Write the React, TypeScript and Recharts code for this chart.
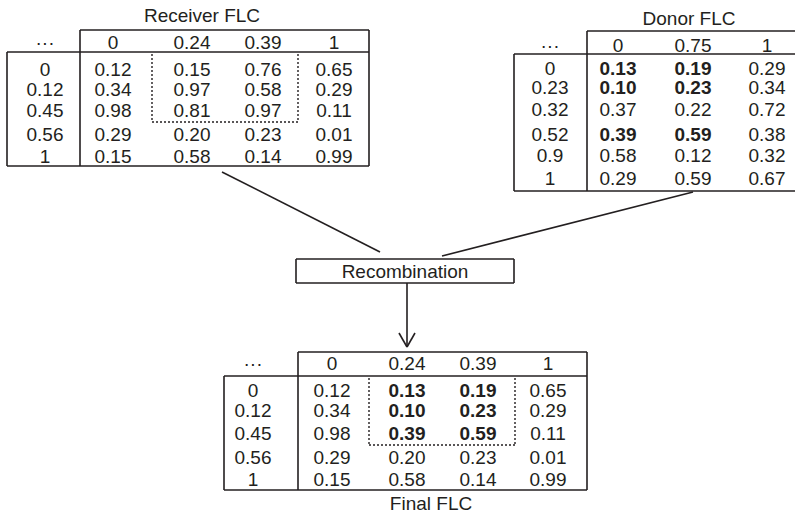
import React from 'react';
import { ScatterChart, Scatter, XAxis, YAxis, ReferenceLine } from 'recharts';

// ---------- data ----------
const corner = '\u00B7\u00B7\u00B7';

const receiverTitle = 'Receiver FLC';
const receiverCols = ['0', '0.24', '0.39', '1'];
const receiverRows = ['0', '0.12', '0.45', '0.56', '1'];
const receiverValues = [
  ['0.12', '0.15', '0.76', '0.65'],
  ['0.34', '0.97', '0.58', '0.29'],
  ['0.98', '0.81', '0.97', '0.11'],
  ['0.29', '0.20', '0.23', '0.01'],
  ['0.15', '0.58', '0.14', '0.99'],
];

const donorTitle = 'Donor FLC';
const donorCols = ['0', '0.75', '1'];
const donorRows = ['0', '0.23', '0.32', '0.52', '0.9', '1'];
const donorValues = [
  ['0.13', '0.19', '0.29'],
  ['0.10', '0.23', '0.34'],
  ['0.37', '0.22', '0.72'],
  ['0.39', '0.59', '0.38'],
  ['0.58', '0.12', '0.32'],
  ['0.29', '0.59', '0.67'],
];
const donorBold = [
  [true, true, false],
  [true, true, false],
  [false, false, false],
  [true, true, false],
  [false, false, false],
  [false, false, false],
];

const finalTitle = 'Final FLC';
const finalCols = ['0', '0.24', '0.39', '1'];
const finalRows = ['0', '0.12', '0.45', '0.56', '1'];
const finalValues = [
  ['0.12', '0.13', '0.19', '0.65'],
  ['0.34', '0.10', '0.23', '0.29'],
  ['0.98', '0.39', '0.59', '0.11'],
  ['0.29', '0.20', '0.23', '0.01'],
  ['0.15', '0.58', '0.14', '0.99'],
];
const finalBold = [
  [false, true, true, false],
  [false, true, true, false],
  [false, true, true, false],
  [false, false, false, false],
  [false, false, false, false],
];

const recombLabel = 'Recombination';

// ---------- layout ----------
const W = 795;
const H = 516;
const INK = '#231f20';
const FONT = '"Liberation Sans", Arial, Helvetica, sans-serif';
const FS = 19;

type Item = { x: number; y: number; text: string; bold?: boolean };

function tableItems(
  title: string, titleX: number, titleY: number,
  labelX: number, colX: number[], headY: number, rowY: number[],
  cols: string[], rows: string[], values: string[][], bold?: boolean[][]
): Item[] {
  const out: Item[] = [];
  out.push({ x: titleX, y: titleY, text: title });
  out.push({ x: labelX, y: headY, text: corner });
  cols.forEach((c, i) => out.push({ x: colX[i], y: headY, text: c }));
  rows.forEach((r, j) => {
    out.push({ x: labelX, y: rowY[j], text: r });
    values[j].forEach((v, i) =>
      out.push({ x: colX[i], y: rowY[j], text: v, bold: bold ? bold[j][i] : false })
    );
  });
  return out;
}

const items: Item[] = [
  ...tableItems(receiverTitle, 202, 15, 45, [113, 192, 263, 334], 42,
    [69, 89, 110, 134, 156], receiverCols, receiverRows, receiverValues),
  ...tableItems(donorTitle, 689, 18, 550, [618, 693, 767], 45,
    [68, 87.5, 109, 134, 155.5, 178], donorCols, donorRows, donorValues, donorBold),
  ...tableItems(finalTitle, 431, 503, 253, [332, 407, 478, 548], 363,
    [390, 410, 433, 457, 479], finalCols, finalRows, finalValues, finalBold),
  { x: 405, y: 271, text: recombLabel },
];

type Seg = { a: [number, number]; b: [number, number]; dash?: boolean };

const segs: Seg[] = [
  // receiver frame
  { a: [80, 30], b: [369, 30] },
  { a: [80, 30], b: [80, 166] },
  { a: [7, 52], b: [369, 52] },
  { a: [7, 52], b: [7, 166] },
  { a: [7, 166], b: [369, 166] },
  { a: [369, 30], b: [369, 166] },
  { a: [152, 54], b: [152, 122], dash: true },
  { a: [298, 54], b: [298, 122], dash: true },
  { a: [152, 122], b: [298, 122], dash: true },
  // donor frame
  { a: [587, 31], b: [W, 31] },
  { a: [587, 31], b: [587, 191] },
  { a: [514, 54], b: [W, 54] },
  { a: [514, 54], b: [514, 191] },
  { a: [514, 191], b: [W, 191] },
  // final frame
  { a: [298, 352], b: [587, 352] },
  { a: [298, 352], b: [298, 490] },
  { a: [224, 376], b: [587, 376] },
  { a: [224, 376], b: [224, 490] },
  { a: [224, 490], b: [587, 490] },
  { a: [587, 352], b: [587, 490] },
  { a: [369, 378], b: [369, 445], dash: true },
  { a: [515, 378], b: [515, 445], dash: true },
  { a: [369, 445], b: [515, 445], dash: true },
  // recombination box
  { a: [296, 259], b: [514, 259] },
  { a: [296, 283], b: [514, 283] },
  { a: [296, 259], b: [296, 283] },
  { a: [514, 259], b: [514, 283] },
  // connectors
  { a: [222, 172], b: [380, 252] },
  { a: [693, 192], b: [442, 256] },
  { a: [407, 283], b: [407, 347] },
  { a: [399, 333], b: [407, 347] },
  { a: [415, 333], b: [407, 347] },
];

const renderText = (props: any) => {
  const { cx, cy, payload } = props;
  return (
    <text
      x={cx}
      y={cy}
      dy="0.36em"
      textAnchor="middle"
      fontFamily={FONT}
      fontSize={FS}
      fontWeight={payload.bold ? 'bold' : 'normal'}
      fill={INK}
    >
      {payload.text}
    </text>
  );
};

export default function App() {
  return (
    <div style={{ position: 'absolute', left: 0, top: 0, background: '#fff' }}>
      <ScatterChart width={W} height={H} margin={{ top: 0, right: 0, bottom: 0, left: 0 }}>
        <XAxis type="number" dataKey="x" domain={[0, W]} hide allowDataOverflow />
        <YAxis type="number" dataKey="y" domain={[0, H]} reversed hide allowDataOverflow />
        {segs.map((s, i) => (
          <ReferenceLine
            key={i}
            segment={[{ x: s.a[0], y: s.a[1] }, { x: s.b[0], y: s.b[1] }]}
            stroke={INK}
            strokeWidth={s.dash ? 1.4 : 1.6}
            strokeDasharray={s.dash ? '2 2' : undefined}
            ifOverflow="visible"
          />
        ))}
        <Scatter data={items} shape={renderText} isAnimationActive={false} />
      </ScatterChart>
    </div>
  );
}
